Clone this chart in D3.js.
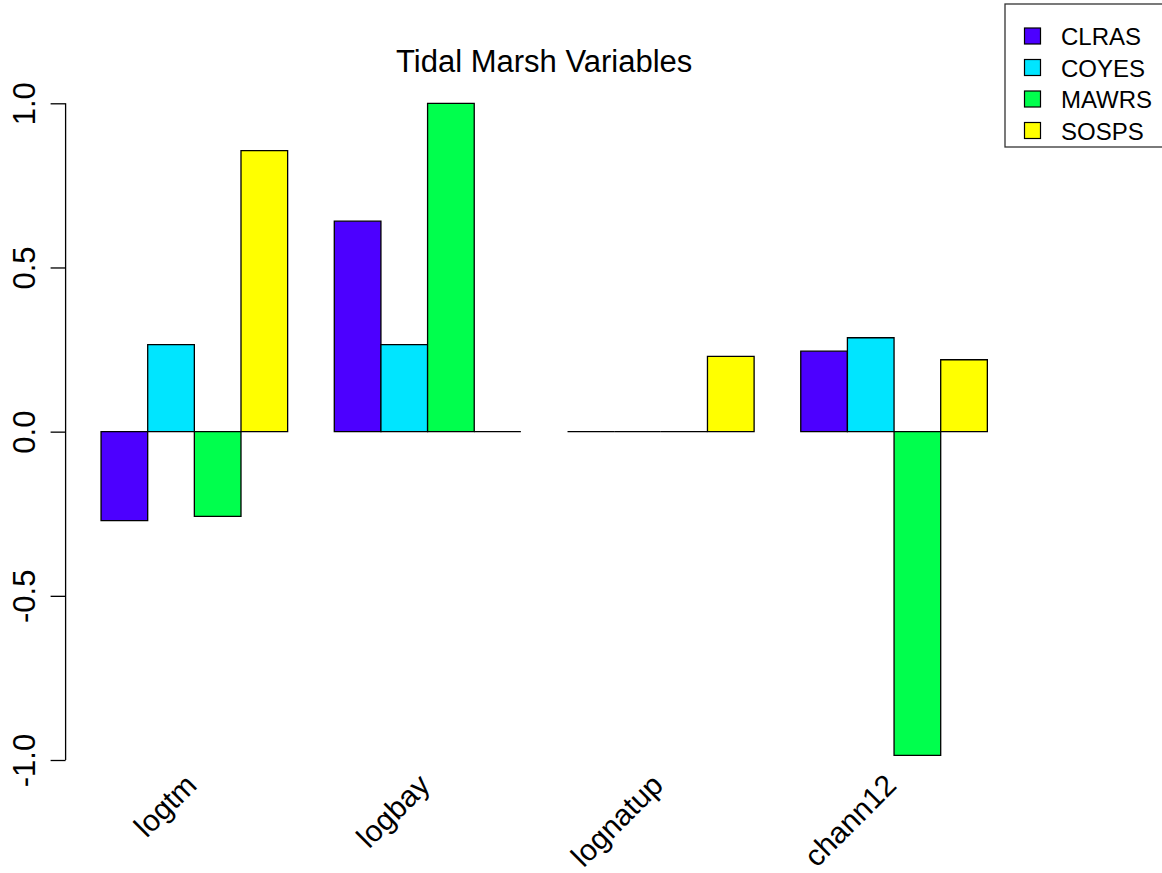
<!DOCTYPE html>
<html>
<head>
<meta charset="utf-8">
<script src="https://cdn.jsdelivr.net/npm/d3@7"></script>
<style>
  body { margin: 0; background: #fff; }
  svg text { font-family: "Liberation Sans", Arial, sans-serif; fill: #000; }
</style>
</head>
<body>
<div id="chart"></div>
<script>
// Chart data
var variables = ["logtm", "logbay", "lognatup", "chann12"];
var species = ["CLRAS", "COYES", "MAWRS", "SOSPS"];
var speciesColors = ["#4C00FF", "#00E5FF", "#00FF4D", "#FFFF00"];
var clras = [-0.271, 0.641, 0, 0.245];
var coyes = [0.265, 0.265, 0, 0.286];
var mawrs = [-0.258, 1.0, 0, -0.986];
var sosps = [0.856, 0, 0.229, 0.219];
var yTicks = [-1, -0.5, 0, 0.5, 1];

var seriesValues = [clras, coyes, mawrs, sosps];

// svg container
var svgWidth = 1162;
var svgHeight = 873;

// plot region
var plot = { left: 65.6, right: 1022.8, top: 103.3, bottom: 760 };

var svg = d3.select("#chart")
    .append("svg")
    .attr("width", svgWidth)
    .attr("height", svgHeight);

// Scales
var x0 = d3.scaleBand()
    .domain(variables)
    .range([plot.left, plot.right])
    .paddingInner(0.2)
    .paddingOuter(0.152);

var x1 = d3.scaleBand()
    .domain(species)
    .range([0, x0.bandwidth()]);

var y = d3.scaleLinear()
    .domain([-1, 1])
    .range([plot.bottom, plot.top]);

var color = d3.scaleOrdinal()
    .domain(species)
    .range(speciesColors);

// Flatten into one record per bar
var bars = [];
variables.forEach(function (v, i) {
    species.forEach(function (s, j) {
        bars.push({ variable: v, species: s, value: seriesValues[j][i] });
    });
});

// Bars drawn as paths so zero-height bars still show their outline
svg.append("g")
    .selectAll("path")
    .data(bars)
    .enter()
    .append("path")
    .attr("d", function (d) {
        var bx = x0(d.variable) + x1(d.species);
        var y0 = y(0);
        var yv = y(d.value);
        return "M" + bx + "," + y0 + "H" + (bx + x1.bandwidth()) + "V" + yv + "H" + bx + "Z";
    })
    .attr("fill", d => color(d.species))
    .attr("stroke", "#000")
    .attr("stroke-width", 1.3);

// Y axis (R style: line spans the ticks, rotated labels, plain hyphen minus)
var leftAxis = d3.axisLeft(y)
    .tickValues(yTicks)
    .tickSize(15)
    .tickSizeOuter(0)
    .tickFormat(d => d.toFixed(1));

var yAxis = svg.append("g")
    .attr("transform", `translate(${plot.left}, 0)`)
    .call(leftAxis);

yAxis.select(".domain")
    .attr("d", `M0,${y(-1)}V${y(1)}`)
    .attr("stroke", "#000")
    .attr("stroke-width", 1.3);

yAxis.selectAll(".tick line")
    .attr("stroke", "#000")
    .attr("stroke-width", 1.3);

yAxis.selectAll(".tick text")
    .attr("x", 0)
    .attr("y", 0)
    .attr("dy", 0)
    .attr("text-anchor", "middle")
    .attr("transform", `translate(${35 - plot.left}, 0) rotate(-90)`)
    .style("font-size", "31px")
    .style("font-family", "'Liberation Sans', Arial, sans-serif")
    .attr("fill", "#000");

// X labels, rotated 45 degrees
svg.append("g")
    .selectAll("text")
    .data(variables)
    .enter()
    .append("text")
    .attr("text-anchor", "end")
    .attr("transform", d => `translate(${x0(d) + x0.bandwidth() / 2 + 4}, 787) rotate(-45)`)
    .style("font-size", "30px")
    .text(d => d);

// Title
svg.append("text")
    .attr("x", (plot.left + plot.right) / 2)
    .attr("y", 72)
    .attr("text-anchor", "middle")
    .style("font-size", "31px")
    .text("Tidal Marsh Variables");

// Legend
var legend = svg.append("g");

legend.append("rect")
    .attr("x", 1005)
    .attr("y", 4)
    .attr("width", 170)
    .attr("height", 143)
    .attr("fill", "#fff")
    .attr("stroke", "#333")
    .attr("stroke-width", 1.3);

var legendRows = legend.selectAll("g.row")
    .data(species)
    .enter()
    .append("g")
    .attr("class", "row")
    .attr("transform", (d, i) => `translate(0, ${36 + i * 31.5})`);

legendRows.append("rect")
    .attr("x", 1024.5)
    .attr("y", -8)
    .attr("width", 16)
    .attr("height", 16)
    .attr("fill", d => color(d))
    .attr("stroke", "#000")
    .attr("stroke-width", 1.2);

legendRows.append("text")
    .attr("x", 1061)
    .attr("y", 9)
    .style("font-size", "24px")
    .text(d => d);
</script>
</body>
</html>
